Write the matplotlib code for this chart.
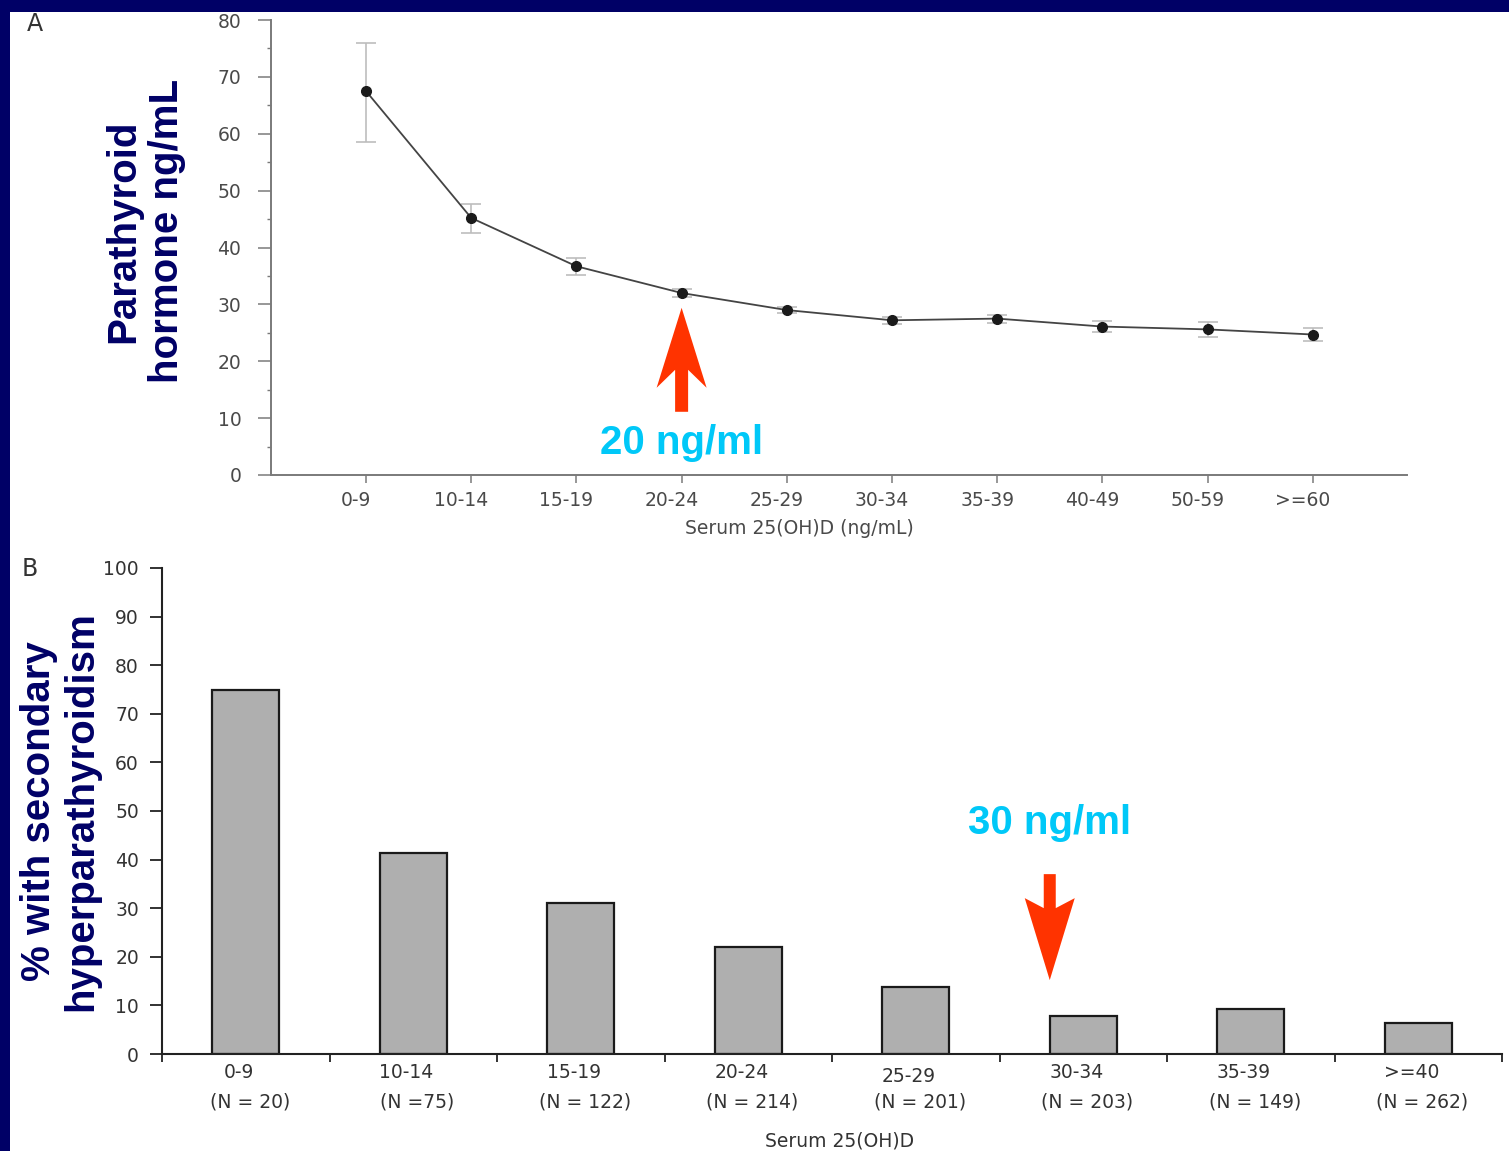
import numpy as np
import matplotlib
matplotlib.use('Agg')
import matplotlib.pyplot as plt
from matplotlib.patches import Rectangle, Polygon
from matplotlib.transforms import ScaledTranslation

# panel A: mean PTH by serum 25(OH)D range, with error bars
faixas_a = ['0-9', '10-14', '15-19', '20-24', '25-29', '30-34', '35-39', '40-49', '50-59', '>=60']
pth = [67.5, 45.2, 36.7, 32.0, 29.0, 27.2, 27.5, 26.1, 25.6, 24.7]
pth_inf = [58.6, 42.5, 35.1, 31.3, 28.4, 26.6, 26.8, 25.1, 24.3, 23.5]
pth_sup = [76.0, 47.6, 38.2, 32.7, 29.6, 27.8, 28.2, 27.1, 26.9, 25.9]

# panel B: % with secondary hyperparathyroidism
faixas_b = ['0-9', '10-14', '15-19', '20-24', '25-29', '30-34', '35-39', '>=40']
n_grupo = [20, 75, 122, 214, 201, 203, 149, 262]
n_texto = ['(N = 20)', '(N =75)', '(N = 122)', '(N = 214)', '(N = 201)', '(N = 203)', '(N = 149)', '(N = 262)']
pct = [75.0, 41.4, 31.1, 22.0, 13.8, 7.8, 9.3, 6.4]

NAVY = '#000066'
RED = '#ff3300'
CYAN = '#00c8f8'
FS = 13.5  # size of the small axis text

W, H = 1509, 1151
fig = plt.figure(figsize=(W / 100, H / 100), dpi=100, facecolor=NAVY)
fig.patches.append(Rectangle((10 / W, 0), 1, 1 - 12 / H, transform=fig.transFigure,
                             facecolor='white', edgecolor='none', zorder=-10))

def seta(ax, x, y, pontos):  # red arrow, vertices in pixels relative to the tip
    trans = fig.dpi_scale_trans + ScaledTranslation(x, y, ax.transData)
    verts = np.array(pontos, dtype=float) / fig.dpi
    ax.add_patch(Polygon(verts, closed=True, transform=trans, facecolor=RED,
                         edgecolor='none', clip_on=False, zorder=5))

# ---------------- panel A ----------------
axa = fig.add_axes([271 / W, 1 - 475 / H, 1136 / W, 455 / H])
axa.patch.set_alpha(0)
xa = np.arange(len(faixas_a))
err = [np.array(pth) - np.array(pth_inf), np.array(pth_sup) - np.array(pth)]
axa.errorbar(xa, pth, yerr=err, fmt='none', ecolor='#bdbdbd', elinewidth=1.2,
             capsize=7, capthick=1.2, zorder=2)
axa.plot(xa, pth, '-', color='#444444', lw=1.3, marker='o', ms=7,
         mfc='#1a1a1a', mec='#1a1a1a', zorder=3)
axa.set_xlim(-0.903, 9.895)
axa.set_ylim(0, 80)
axa.set_yticks(np.arange(0, 81, 10))
axa.set_yticks(np.arange(5, 80, 10), minor=True)
axa.set_xticks(xa)
axa.set_xticklabels(faixas_a)
for s in ['top', 'right']:
    axa.spines[s].set_visible(False)
for s in ['left', 'bottom']:
    axa.spines[s].set_color('#7a7a7a')
    axa.spines[s].set_linewidth(1.4)
axa.tick_params(axis='y', which='major', length=9.4, width=1.1, color='#7a7a7a',
                pad=12, labelsize=FS, labelcolor='#4a4a4a')
axa.tick_params(axis='y', which='minor', length=3, width=1.0, color='#7a7a7a')
axa.tick_params(axis='x', length=5.8, width=1.1, color='#7a7a7a', pad=6,
                labelsize=FS, labelcolor='#4a4a4a')
for lbl in axa.get_xticklabels():
    lbl.set_transform(lbl.get_transform() + ScaledTranslation(-0.1, 0, fig.dpi_scale_trans))
axa.set_xlabel('Serum 25(OH)D (ng/mL)', fontsize=FS, color='#4a4a4a')
axa.xaxis.set_label_coords((799 - 271) / 1136, -(528 - 475) / 455)
axa.xaxis.label.set_va('center')

seta(axa, 3, 29.4, [(0, 0), (25, -80), (6.5, -62), (6.5, -104), (-6.5, -104), (-6.5, -62), (-25, -80)])
axa.text(3, 5.6, '20 ng/ml', color=CYAN, fontsize=29, fontweight='bold',
         family='Liberation Sans', ha='center', va='center')

fig.text(35 / W, 1 - 24 / H, 'A', fontsize=17, color='#333333', ha='center', va='center')
fig.text(145 / W, 1 - 231 / H, 'Parathyroid\nhormone ng/mL', rotation=90, fontsize=29,
         fontweight='bold', family='Liberation Sans', color=NAVY, ha='center', va='center',
         multialignment='center', linespacing=1.2)

# ---------------- panel B ----------------
axb = fig.add_axes([162 / W, 1 - 1054 / H, 1340 / W, 486 / H])
axb.patch.set_alpha(0)
xb = np.arange(len(faixas_b))
axb.bar(xb, pct, width=0.4, color='#afafaf', edgecolor='#1a1a1a', linewidth=1.6, zorder=2)
axb.set_xlim(-0.5, 7.5)
axb.set_ylim(0, 100)
axb.set_yticks(np.arange(0, 101, 10))
axb.set_xticks(np.arange(-0.5, 8, 1))
axb.set_xticklabels([])
for s in ['top', 'right']:
    axb.spines[s].set_visible(False)
for s in ['left', 'bottom']:
    axb.spines[s].set_color('#222222')
    axb.spines[s].set_linewidth(1.5)
axb.tick_params(axis='y', length=8.6, width=1.3, color='#222222', pad=8,
                labelsize=FS, labelcolor='#333333')
axb.tick_params(axis='x', length=5.8, width=1.3, color='#222222')
for i in range(len(faixas_b)):
    dy = -23 if faixas_b[i] == '25-29' else -19
    axb.annotate(faixas_b[i], xy=(xb[i], 0), xycoords=('data', 'axes fraction'),
                 xytext=(-5, dy * 0.72), textcoords='offset points',
                 ha='center', va='center', fontsize=FS, color='#333333')
    axb.annotate(n_texto[i], xy=(xb[i], 0), xycoords=('data', 'axes fraction'),
                 xytext=(3, -48 * 0.72), textcoords='offset points',
                 ha='center', va='center', fontsize=FS, color='#333333')
fig.text(840 / W, 1 - 1141 / H, 'Serum 25(OH)D', fontsize=FS, color='#333333',
         ha='center', va='center')

seta(axb, 4.8, 15.2, [(0, 0), (25, 82), (6, 72), (6, 106), (-6, 106), (-6, 72), (-25, 82)])
axb.text(4.8, 47.5, '30 ng/ml', color=CYAN, fontsize=29, fontweight='bold',
         family='Liberation Sans', ha='center', va='center')

fig.text(30 / W, 1 - 569 / H, 'B', fontsize=17, color='#333333', ha='center', va='center')
fig.text(60 / W, 1 - 811 / H, '% with secondary\nhyperparathyroidism', rotation=90,
         fontsize=29, fontweight='bold', family='Liberation Sans', color=NAVY,
         ha='center', va='center', multialignment='center', linespacing=1.12)

fig.savefig('out.png', dpi=100, facecolor=NAVY)
